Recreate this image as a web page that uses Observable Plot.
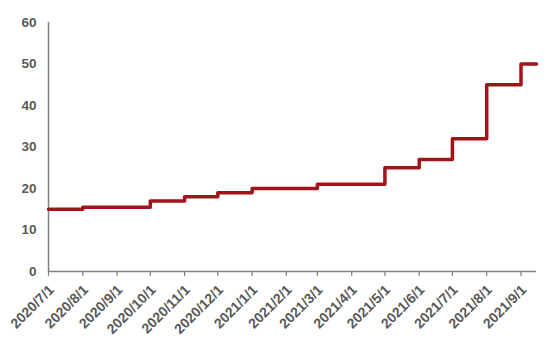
<!DOCTYPE html>
<html><head><meta charset="utf-8">
<script src="https://cdn.jsdelivr.net/npm/d3@7"></script>
<script src="https://cdn.jsdelivr.net/npm/@observablehq/plot@0.6"></script>
<style>
body{margin:0;background:#fff;}
#chart svg{display:block;}
</style>
</head><body><div id="chart"></div>
<script>
// Step dates (change points) and values
const stepDates = ["2020/7/1","2020/8/1","2020/10/1","2020/11/1","2020/12/1","2021/1/1","2021/3/1","2021/5/1","2021/6/1","2021/7/1","2021/8/1","2021/9/1","2021/9/15"];
const stepValues = [15,15.5,17,18,19,20,21,25,27,32,45,50,50];
const xTickLabels = ["2020/7/1","2020/8/1","2020/9/1","2020/10/1","2020/11/1","2020/12/1","2021/1/1","2021/2/1","2021/3/1","2021/4/1","2021/5/1","2021/6/1","2021/7/1","2021/8/1","2021/9/1"];
const yTicks = [0,10,20,30,40,50,60];

const parse = s => { const [y,m,d] = s.split("/").map(Number); return new Date(Date.UTC(y, m-1, d)); };
const data = stepDates.map((s,i) => ({date: parse(s), value: stepValues[i]}));
const xTicks = xTickLabels.map(parse);
const fmt = d => `${d.getUTCFullYear()}/${d.getUTCMonth()+1}/${d.getUTCDate()}`;

const chart = Plot.plot({
  width: 556,
  height: 352,
  marginLeft: 48,
  marginRight: 20,
  marginTop: 22,
  marginBottom: 81,
  style: {fontFamily: "'Liberation Sans', Arial, sans-serif", background: "#fff"},
  x: {type: "utc", domain: [parse("2020/7/1"), parse("2021/9/15")]},
  y: {domain: [0, 60]},
  marks: [
    Plot.ruleX([parse("2020/7/1")], {stroke: "#808080", strokeWidth: 1.5}),
    Plot.ruleY([0], {stroke: "#808080", strokeWidth: 1.5}),
    Plot.axisY({ticks: yTicks, tickSize: 0, tickPadding: 12, fontSize: 13.5, fontWeight: "bold", fill: "#595959", label: null}),
    Plot.axisX({ticks: xTicks, tickSize: 5, stroke: "#808080", strokeWidth: 1.2, fill: "none", label: null}),
    Plot.axisX({ticks: xTicks, tickFormat: fmt, tickSize: 0, tickRotate: -45, fontSize: 14, fontWeight: "bold", fill: "#595959", tickPadding: 16, dx: 3, label: null}),
    Plot.line(data, {x: "date", y: "value", curve: "step-after", stroke: "#A3141A", strokeWidth: 3.5})
  ]
});
document.getElementById("chart").appendChild(chart);
</script>
</body></html>
